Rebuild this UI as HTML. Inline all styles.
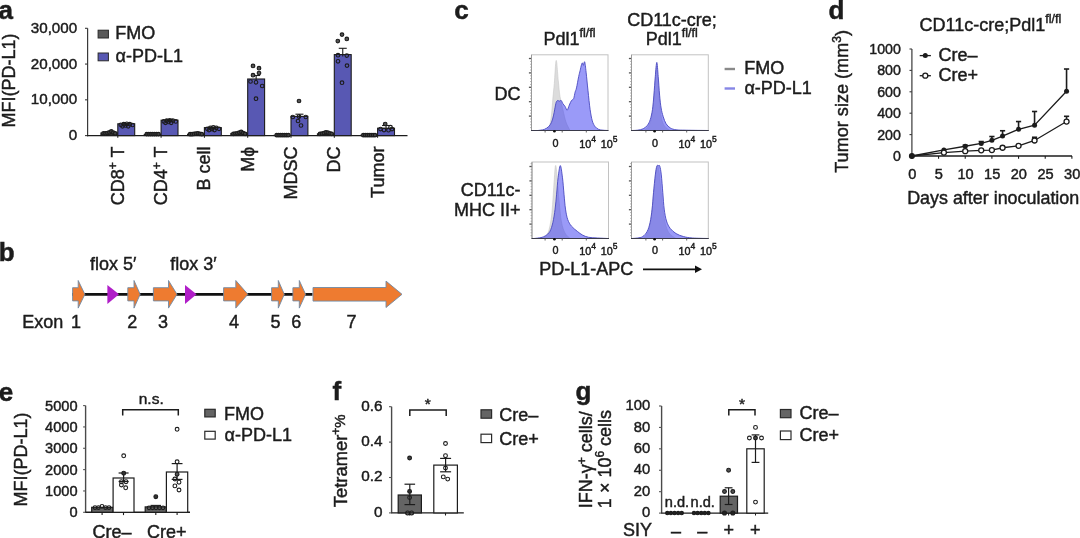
<!DOCTYPE html>
<html><head><meta charset="utf-8"><style>
html,body{margin:0;padding:0;background:#fff;overflow:hidden;}
svg{display:block;will-change:transform;}
text{font-family:"Liberation Sans",sans-serif;fill:#1c1c1c;stroke:#1c1c1c;stroke-width:0.45px;}
text.b{stroke-width:0.5px;}
</style></head><body>
<svg width="1080" height="538" viewBox="0 0 1080 538">
<text x="-1.5" y="18.6" font-size="26" text-anchor="start" font-weight="bold" class="b">a</text>
<line x1="87.6" y1="28.3" x2="87.6" y2="136.2" stroke="#3a3a3a" stroke-width="1.2"/>
<line x1="85.0" y1="135.6" x2="87.6" y2="135.6" stroke="#3a3a3a" stroke-width="1.1"/>
<text x="77.2" y="140.2" font-size="15.2" text-anchor="end" font-weight="normal">0</text>
<line x1="85.0" y1="99.83333333333333" x2="87.6" y2="99.83333333333333" stroke="#3a3a3a" stroke-width="1.1"/>
<text x="77.2" y="104.43333333333332" font-size="15.2" text-anchor="end" font-weight="normal">10,000</text>
<line x1="85.0" y1="64.06666666666666" x2="87.6" y2="64.06666666666666" stroke="#3a3a3a" stroke-width="1.1"/>
<text x="77.2" y="68.66666666666666" font-size="15.2" text-anchor="end" font-weight="normal">20,000</text>
<line x1="85.0" y1="28.299999999999997" x2="87.6" y2="28.299999999999997" stroke="#3a3a3a" stroke-width="1.1"/>
<text x="77.2" y="32.9" font-size="15.2" text-anchor="end" font-weight="normal">30,000</text>
<line x1="87.0" y1="135.6" x2="407.5" y2="135.6" stroke="#1c1c1c" stroke-width="1.4"/>
<text transform="translate(15.0,80.6) rotate(-90)" font-size="18" text-anchor="middle">MFI(PD-L1)</text>
<rect x="98.1" y="30.2" width="10.3" height="7.8" fill="#5a5a5a" stroke="#2a2a2a" stroke-width="1"/>
<text x="115.2" y="39.4" font-size="18" text-anchor="start" font-weight="normal">FMO</text>
<rect x="98.1" y="53.0" width="10.3" height="7.8" fill="#5858b3" stroke="#2a2a2a" stroke-width="1"/>
<text x="115.6" y="62.2" font-size="18" text-anchor="start" font-weight="normal">α-PD-L1</text>
<rect x="100.90" y="132.90" width="16.9" height="2.70" fill="#333" stroke="#1c1c1c" stroke-width="1"/>
<circle cx="103.50" cy="133.40" r="1.75" fill="#444" stroke="#1c1c1c" stroke-width="1.2"/>
<circle cx="105.45" cy="133.40" r="1.75" fill="#444" stroke="#1c1c1c" stroke-width="1.2"/>
<circle cx="107.40" cy="133.00" r="1.75" fill="#444" stroke="#1c1c1c" stroke-width="1.2"/>
<circle cx="109.35" cy="132.40" r="1.75" fill="#444" stroke="#1c1c1c" stroke-width="1.2"/>
<circle cx="111.30" cy="131.40" r="1.75" fill="#444" stroke="#1c1c1c" stroke-width="1.2"/>
<circle cx="113.25" cy="132.60" r="1.75" fill="#444" stroke="#1c1c1c" stroke-width="1.2"/>
<circle cx="115.20" cy="133.40" r="1.75" fill="#444" stroke="#1c1c1c" stroke-width="1.2"/>
<rect x="117.80" y="123.80" width="16.9" height="11.80" fill="#5858b3" stroke="#1c1c1c" stroke-width="1.1"/>
<line x1="126.25000000000001" y1="125.8" x2="126.25000000000001" y2="123.2" stroke="#1c1c1c" stroke-width="1.1"/>
<line x1="122.25000000000001" y1="123.2" x2="130.25" y2="123.2" stroke="#1c1c1c" stroke-width="1.1"/>
<circle cx="120.80" cy="124.80" r="1.8" fill="none" stroke="#1c1c1c" stroke-width="1.15"/>
<circle cx="123.80" cy="124.20" r="1.8" fill="none" stroke="#1c1c1c" stroke-width="1.15"/>
<circle cx="126.80" cy="123.80" r="1.8" fill="none" stroke="#1c1c1c" stroke-width="1.15"/>
<circle cx="129.80" cy="124.20" r="1.8" fill="none" stroke="#1c1c1c" stroke-width="1.15"/>
<circle cx="132.60" cy="125.00" r="1.8" fill="none" stroke="#1c1c1c" stroke-width="1.15"/>
<circle cx="122.50" cy="126.30" r="1.8" fill="none" stroke="#1c1c1c" stroke-width="1.15"/>
<circle cx="128.20" cy="126.30" r="1.8" fill="none" stroke="#1c1c1c" stroke-width="1.15"/>
<circle cx="125.50" cy="125.50" r="1.8" fill="none" stroke="#1c1c1c" stroke-width="1.15"/>
<line x1="117.80000000000001" y1="135.6" x2="117.80000000000001" y2="137.79999999999998" stroke="#1c1c1c" stroke-width="1"/>
<text transform="translate(123.80000000000001,146.6) rotate(-90)" font-size="18" text-anchor="end">CD8<tspan dy="-6.5" font-size="12">+</tspan><tspan dy="6.5"> T</tspan></text>
<rect x="144.20" y="134.40" width="16.9" height="1.20" fill="#333" stroke="#1c1c1c" stroke-width="1"/>
<circle cx="146.80" cy="134.10" r="1.75" fill="#444" stroke="#1c1c1c" stroke-width="1.2"/>
<circle cx="148.75" cy="134.10" r="1.75" fill="#444" stroke="#1c1c1c" stroke-width="1.2"/>
<circle cx="150.70" cy="134.10" r="1.75" fill="#444" stroke="#1c1c1c" stroke-width="1.2"/>
<circle cx="152.65" cy="134.10" r="1.75" fill="#444" stroke="#1c1c1c" stroke-width="1.2"/>
<circle cx="154.60" cy="134.10" r="1.75" fill="#444" stroke="#1c1c1c" stroke-width="1.2"/>
<circle cx="156.55" cy="134.10" r="1.75" fill="#444" stroke="#1c1c1c" stroke-width="1.2"/>
<circle cx="158.50" cy="134.10" r="1.75" fill="#444" stroke="#1c1c1c" stroke-width="1.2"/>
<rect x="161.10" y="120.20" width="16.9" height="15.40" fill="#5858b3" stroke="#1c1c1c" stroke-width="1.1"/>
<line x1="169.54999999999998" y1="122.2" x2="169.54999999999998" y2="119.6" stroke="#1c1c1c" stroke-width="1.1"/>
<line x1="165.54999999999998" y1="119.6" x2="173.54999999999998" y2="119.6" stroke="#1c1c1c" stroke-width="1.1"/>
<circle cx="163.80" cy="121.40" r="1.8" fill="none" stroke="#1c1c1c" stroke-width="1.15"/>
<circle cx="166.80" cy="120.60" r="1.8" fill="none" stroke="#1c1c1c" stroke-width="1.15"/>
<circle cx="169.80" cy="120.30" r="1.8" fill="none" stroke="#1c1c1c" stroke-width="1.15"/>
<circle cx="172.80" cy="120.60" r="1.8" fill="none" stroke="#1c1c1c" stroke-width="1.15"/>
<circle cx="175.80" cy="121.40" r="1.8" fill="none" stroke="#1c1c1c" stroke-width="1.15"/>
<circle cx="165.50" cy="122.80" r="1.8" fill="none" stroke="#1c1c1c" stroke-width="1.15"/>
<circle cx="171.20" cy="122.80" r="1.8" fill="none" stroke="#1c1c1c" stroke-width="1.15"/>
<circle cx="168.50" cy="122.00" r="1.8" fill="none" stroke="#1c1c1c" stroke-width="1.15"/>
<line x1="161.1" y1="135.6" x2="161.1" y2="137.79999999999998" stroke="#1c1c1c" stroke-width="1"/>
<text transform="translate(167.1,146.6) rotate(-90)" font-size="18" text-anchor="end">CD4<tspan dy="-6.5" font-size="12">+</tspan><tspan dy="6.5"> T</tspan></text>
<rect x="187.50" y="134.20" width="16.9" height="1.40" fill="#333" stroke="#1c1c1c" stroke-width="1"/>
<circle cx="190.10" cy="134.20" r="1.75" fill="#444" stroke="#1c1c1c" stroke-width="1.2"/>
<circle cx="192.05" cy="134.20" r="1.75" fill="#444" stroke="#1c1c1c" stroke-width="1.2"/>
<circle cx="194.00" cy="133.90" r="1.75" fill="#444" stroke="#1c1c1c" stroke-width="1.2"/>
<circle cx="195.95" cy="133.60" r="1.75" fill="#444" stroke="#1c1c1c" stroke-width="1.2"/>
<circle cx="197.90" cy="133.30" r="1.75" fill="#444" stroke="#1c1c1c" stroke-width="1.2"/>
<circle cx="199.85" cy="133.80" r="1.75" fill="#444" stroke="#1c1c1c" stroke-width="1.2"/>
<circle cx="201.80" cy="134.20" r="1.75" fill="#444" stroke="#1c1c1c" stroke-width="1.2"/>
<rect x="204.40" y="127.60" width="16.9" height="8.00" fill="#5858b3" stroke="#1c1c1c" stroke-width="1.1"/>
<line x1="212.85" y1="129.6" x2="212.85" y2="127.0" stroke="#1c1c1c" stroke-width="1.1"/>
<line x1="208.85" y1="127.0" x2="216.85" y2="127.0" stroke="#1c1c1c" stroke-width="1.1"/>
<circle cx="207.30" cy="128.80" r="1.8" fill="none" stroke="#1c1c1c" stroke-width="1.15"/>
<circle cx="210.30" cy="127.80" r="1.8" fill="none" stroke="#1c1c1c" stroke-width="1.15"/>
<circle cx="213.30" cy="127.30" r="1.8" fill="none" stroke="#1c1c1c" stroke-width="1.15"/>
<circle cx="216.30" cy="127.80" r="1.8" fill="none" stroke="#1c1c1c" stroke-width="1.15"/>
<circle cx="219.00" cy="128.80" r="1.8" fill="none" stroke="#1c1c1c" stroke-width="1.15"/>
<circle cx="209.00" cy="130.00" r="1.8" fill="none" stroke="#1c1c1c" stroke-width="1.15"/>
<circle cx="214.50" cy="130.00" r="1.8" fill="none" stroke="#1c1c1c" stroke-width="1.15"/>
<circle cx="212.00" cy="129.00" r="1.8" fill="none" stroke="#1c1c1c" stroke-width="1.15"/>
<line x1="204.4" y1="135.6" x2="204.4" y2="137.79999999999998" stroke="#1c1c1c" stroke-width="1"/>
<text transform="translate(210.4,146.6) rotate(-90)" font-size="18" text-anchor="end">B cell</text>
<rect x="230.80" y="133.40" width="16.9" height="2.20" fill="#333" stroke="#1c1c1c" stroke-width="1"/>
<circle cx="233.40" cy="133.80" r="1.75" fill="#444" stroke="#1c1c1c" stroke-width="1.2"/>
<circle cx="235.35" cy="133.60" r="1.75" fill="#444" stroke="#1c1c1c" stroke-width="1.2"/>
<circle cx="237.30" cy="133.30" r="1.75" fill="#444" stroke="#1c1c1c" stroke-width="1.2"/>
<circle cx="239.25" cy="132.60" r="1.75" fill="#444" stroke="#1c1c1c" stroke-width="1.2"/>
<circle cx="241.20" cy="131.80" r="1.75" fill="#444" stroke="#1c1c1c" stroke-width="1.2"/>
<circle cx="243.15" cy="133.10" r="1.75" fill="#444" stroke="#1c1c1c" stroke-width="1.2"/>
<circle cx="245.10" cy="133.80" r="1.75" fill="#444" stroke="#1c1c1c" stroke-width="1.2"/>
<rect x="247.70" y="79.00" width="16.9" height="56.60" fill="#5858b3" stroke="#1c1c1c" stroke-width="1.1"/>
<line x1="256.15" y1="81.0" x2="256.15" y2="75.5" stroke="#1c1c1c" stroke-width="1.1"/>
<line x1="252.14999999999998" y1="75.5" x2="260.15" y2="75.5" stroke="#1c1c1c" stroke-width="1.1"/>
<circle cx="253.00" cy="66.00" r="1.8" fill="#555" stroke="#1c1c1c" stroke-width="1.15"/>
<circle cx="259.00" cy="68.20" r="1.8" fill="#555" stroke="#1c1c1c" stroke-width="1.15"/>
<circle cx="259.00" cy="73.00" r="1.8" fill="#555" stroke="#1c1c1c" stroke-width="1.15"/>
<circle cx="253.00" cy="75.20" r="1.8" fill="#555" stroke="#1c1c1c" stroke-width="1.15"/>
<circle cx="250.50" cy="81.50" r="1.8" fill="none" stroke="#1c1c1c" stroke-width="1.15"/>
<circle cx="256.00" cy="82.30" r="1.8" fill="none" stroke="#1c1c1c" stroke-width="1.15"/>
<circle cx="262.20" cy="86.00" r="1.8" fill="none" stroke="#1c1c1c" stroke-width="1.15"/>
<circle cx="256.00" cy="98.70" r="1.8" fill="none" stroke="#1c1c1c" stroke-width="1.15"/>
<line x1="247.7" y1="135.6" x2="247.7" y2="137.79999999999998" stroke="#1c1c1c" stroke-width="1"/>
<text transform="translate(253.7,146.6) rotate(-90)" font-size="18" text-anchor="end">Mϕ</text>
<rect x="274.10" y="135.20" width="16.9" height="0.40" fill="#333" stroke="#1c1c1c" stroke-width="1"/>
<circle cx="276.70" cy="135.20" r="1.75" fill="#444" stroke="#1c1c1c" stroke-width="1.2"/>
<circle cx="278.65" cy="135.20" r="1.75" fill="#444" stroke="#1c1c1c" stroke-width="1.2"/>
<circle cx="280.60" cy="135.20" r="1.75" fill="#444" stroke="#1c1c1c" stroke-width="1.2"/>
<circle cx="282.55" cy="135.20" r="1.75" fill="#444" stroke="#1c1c1c" stroke-width="1.2"/>
<circle cx="284.50" cy="135.20" r="1.75" fill="#444" stroke="#1c1c1c" stroke-width="1.2"/>
<circle cx="286.45" cy="135.20" r="1.75" fill="#444" stroke="#1c1c1c" stroke-width="1.2"/>
<circle cx="288.40" cy="135.20" r="1.75" fill="#444" stroke="#1c1c1c" stroke-width="1.2"/>
<rect x="291.00" y="116.40" width="16.9" height="19.20" fill="#5858b3" stroke="#1c1c1c" stroke-width="1.1"/>
<line x1="299.45" y1="118.4" x2="299.45" y2="114.2" stroke="#1c1c1c" stroke-width="1.1"/>
<line x1="295.45" y1="114.2" x2="303.45" y2="114.2" stroke="#1c1c1c" stroke-width="1.1"/>
<circle cx="299.00" cy="101.00" r="1.8" fill="#555" stroke="#1c1c1c" stroke-width="1.15"/>
<circle cx="292.80" cy="117.00" r="1.8" fill="none" stroke="#1c1c1c" stroke-width="1.15"/>
<circle cx="299.00" cy="116.60" r="1.8" fill="none" stroke="#1c1c1c" stroke-width="1.15"/>
<circle cx="305.80" cy="117.00" r="1.8" fill="none" stroke="#1c1c1c" stroke-width="1.15"/>
<circle cx="298.00" cy="121.00" r="1.8" fill="none" stroke="#1c1c1c" stroke-width="1.15"/>
<circle cx="301.00" cy="125.50" r="1.8" fill="none" stroke="#1c1c1c" stroke-width="1.15"/>
<line x1="291.0" y1="135.6" x2="291.0" y2="137.79999999999998" stroke="#1c1c1c" stroke-width="1"/>
<text transform="translate(297.0,146.6) rotate(-90)" font-size="18" text-anchor="end">MDSC</text>
<rect x="317.40" y="133.80" width="16.9" height="1.80" fill="#333" stroke="#1c1c1c" stroke-width="1"/>
<circle cx="320.00" cy="133.80" r="1.75" fill="#444" stroke="#1c1c1c" stroke-width="1.2"/>
<circle cx="321.95" cy="133.60" r="1.75" fill="#444" stroke="#1c1c1c" stroke-width="1.2"/>
<circle cx="323.90" cy="133.10" r="1.75" fill="#444" stroke="#1c1c1c" stroke-width="1.2"/>
<circle cx="325.85" cy="132.30" r="1.75" fill="#444" stroke="#1c1c1c" stroke-width="1.2"/>
<circle cx="327.80" cy="132.70" r="1.75" fill="#444" stroke="#1c1c1c" stroke-width="1.2"/>
<circle cx="329.75" cy="133.40" r="1.75" fill="#444" stroke="#1c1c1c" stroke-width="1.2"/>
<circle cx="331.70" cy="133.80" r="1.75" fill="#444" stroke="#1c1c1c" stroke-width="1.2"/>
<rect x="334.30" y="54.60" width="16.9" height="81.00" fill="#5858b3" stroke="#1c1c1c" stroke-width="1.1"/>
<line x1="342.74999999999994" y1="56.6" x2="342.74999999999994" y2="48.3" stroke="#1c1c1c" stroke-width="1.1"/>
<line x1="338.74999999999994" y1="48.3" x2="346.74999999999994" y2="48.3" stroke="#1c1c1c" stroke-width="1.1"/>
<circle cx="342.00" cy="34.60" r="1.8" fill="#555" stroke="#1c1c1c" stroke-width="1.15"/>
<circle cx="337.80" cy="41.00" r="1.8" fill="#555" stroke="#1c1c1c" stroke-width="1.15"/>
<circle cx="346.80" cy="38.90" r="1.8" fill="#555" stroke="#1c1c1c" stroke-width="1.15"/>
<circle cx="338.00" cy="55.20" r="1.8" fill="none" stroke="#1c1c1c" stroke-width="1.15"/>
<circle cx="346.80" cy="55.50" r="1.8" fill="none" stroke="#1c1c1c" stroke-width="1.15"/>
<circle cx="338.00" cy="61.30" r="1.8" fill="none" stroke="#1c1c1c" stroke-width="1.15"/>
<circle cx="347.00" cy="65.60" r="1.8" fill="none" stroke="#1c1c1c" stroke-width="1.15"/>
<circle cx="342.00" cy="82.70" r="1.8" fill="none" stroke="#1c1c1c" stroke-width="1.15"/>
<line x1="334.29999999999995" y1="135.6" x2="334.29999999999995" y2="137.79999999999998" stroke="#1c1c1c" stroke-width="1"/>
<text transform="translate(340.29999999999995,146.6) rotate(-90)" font-size="18" text-anchor="end">DC</text>
<rect x="360.70" y="135.20" width="16.9" height="0.40" fill="#333" stroke="#1c1c1c" stroke-width="1"/>
<circle cx="363.30" cy="135.20" r="1.75" fill="#444" stroke="#1c1c1c" stroke-width="1.2"/>
<circle cx="365.25" cy="135.20" r="1.75" fill="#444" stroke="#1c1c1c" stroke-width="1.2"/>
<circle cx="367.20" cy="135.20" r="1.75" fill="#444" stroke="#1c1c1c" stroke-width="1.2"/>
<circle cx="369.15" cy="135.20" r="1.75" fill="#444" stroke="#1c1c1c" stroke-width="1.2"/>
<circle cx="371.10" cy="135.20" r="1.75" fill="#444" stroke="#1c1c1c" stroke-width="1.2"/>
<circle cx="373.05" cy="135.20" r="1.75" fill="#444" stroke="#1c1c1c" stroke-width="1.2"/>
<circle cx="375.00" cy="135.20" r="1.75" fill="#444" stroke="#1c1c1c" stroke-width="1.2"/>
<rect x="377.60" y="128.20" width="16.9" height="7.40" fill="#5858b3" stroke="#1c1c1c" stroke-width="1.1"/>
<line x1="386.0499999999999" y1="130.2" x2="386.0499999999999" y2="125.5" stroke="#1c1c1c" stroke-width="1.1"/>
<line x1="382.0499999999999" y1="125.5" x2="390.0499999999999" y2="125.5" stroke="#1c1c1c" stroke-width="1.1"/>
<circle cx="385.20" cy="124.00" r="1.8" fill="#555" stroke="#1c1c1c" stroke-width="1.15"/>
<circle cx="390.50" cy="127.20" r="1.8" fill="none" stroke="#1c1c1c" stroke-width="1.15"/>
<circle cx="380.50" cy="129.00" r="1.8" fill="none" stroke="#1c1c1c" stroke-width="1.15"/>
<circle cx="384.00" cy="130.00" r="1.8" fill="none" stroke="#1c1c1c" stroke-width="1.15"/>
<circle cx="388.50" cy="130.20" r="1.8" fill="none" stroke="#1c1c1c" stroke-width="1.15"/>
<circle cx="392.00" cy="129.00" r="1.8" fill="none" stroke="#1c1c1c" stroke-width="1.15"/>
<line x1="377.5999999999999" y1="135.6" x2="377.5999999999999" y2="137.79999999999998" stroke="#1c1c1c" stroke-width="1"/>
<text transform="translate(383.5999999999999,146.6) rotate(-90)" font-size="18" text-anchor="end">Tumor</text>
<text x="-1.2" y="260.9" font-size="26" text-anchor="start" font-weight="bold" class="b">b</text>
<text x="90" y="269.6" font-size="18" text-anchor="start" font-weight="normal">flox 5′</text>
<text x="170.3" y="269.6" font-size="18" text-anchor="start" font-weight="normal">flox 3′</text>
<line x1="72" y1="294.3" x2="312.5" y2="294.3" stroke="#111" stroke-width="2.7"/>
<polygon points="72.60,287.70 78.20,287.70 78.20,280.50 84.90,294.30 78.20,308.10 78.20,300.90 72.60,300.90" fill="#ee7b30" stroke="#6f8aa6" stroke-width="0.9" stroke-linejoin="miter"/>
<polygon points="127.80,287.70 134.00,287.70 134.00,280.50 140.20,294.30 134.00,308.10 134.00,300.90 127.80,300.90" fill="#ee7b30" stroke="#6f8aa6" stroke-width="0.9" stroke-linejoin="miter"/>
<polygon points="153.40,287.70 168.50,287.70 168.50,280.50 177.00,294.30 168.50,308.10 168.50,300.90 153.40,300.90" fill="#ee7b30" stroke="#6f8aa6" stroke-width="0.9" stroke-linejoin="miter"/>
<polygon points="223.60,287.70 235.80,287.70 235.80,280.50 247.90,294.30 235.80,308.10 235.80,300.90 223.60,300.90" fill="#ee7b30" stroke="#6f8aa6" stroke-width="0.9" stroke-linejoin="miter"/>
<polygon points="271.60,287.70 278.30,287.70 278.30,280.50 284.30,294.30 278.30,308.10 278.30,300.90 271.60,300.90" fill="#ee7b30" stroke="#6f8aa6" stroke-width="0.9" stroke-linejoin="miter"/>
<polygon points="292.90,287.70 299.30,287.70 299.30,280.50 305.60,294.30 299.30,308.10 299.30,300.90 292.90,300.90" fill="#ee7b30" stroke="#6f8aa6" stroke-width="0.9" stroke-linejoin="miter"/>
<polygon points="313.00,287.50 386.00,287.50 386.00,281.10 402.00,294.30 386.00,307.50 386.00,301.10 313.00,301.10" fill="#ee7b30" stroke="#6f8aa6" stroke-width="0.9" stroke-linejoin="miter"/>
<polygon points="107.4,284.9 119.0,294.3 107.4,303.9" fill="#b01ec8"/>
<polygon points="185.0,284.9 196.6,294.3 185.0,303.9" fill="#b01ec8"/>
<text x="22.2" y="328.3" font-size="18" text-anchor="start" font-weight="normal">Exon</text>
<text x="71.0" y="328.3" font-size="18" text-anchor="start" font-weight="normal">1</text>
<text x="127.3" y="328.3" font-size="18" text-anchor="start" font-weight="normal">2</text>
<text x="158.0" y="328.3" font-size="18" text-anchor="start" font-weight="normal">3</text>
<text x="229.0" y="328.3" font-size="18" text-anchor="start" font-weight="normal">4</text>
<text x="270.6" y="328.3" font-size="18" text-anchor="start" font-weight="normal">5</text>
<text x="291.3" y="328.3" font-size="18" text-anchor="start" font-weight="normal">6</text>
<text x="346.6" y="328.3" font-size="18" text-anchor="start" font-weight="normal">7</text>
<text x="454.3" y="18.9" font-size="26" text-anchor="start" font-weight="bold" class="b">c</text>
<rect x="531.5" y="54.8" width="76.5" height="75.7" fill="#fff" stroke="#c2c2c2" stroke-width="1"/>
<path d="M546.00,130.50 C546.58,129.75 548.58,128.58 549.50,126.00 C550.42,123.42 550.93,119.67 551.50,115.00 C552.07,110.33 552.43,103.23 552.90,98.00 C553.37,92.77 553.75,89.87 554.30,83.60 C554.85,77.33 555.53,60.87 556.20,60.40 C556.87,59.93 557.67,74.78 558.30,80.80 C558.93,86.82 559.22,91.63 560.00,96.50 C560.78,101.37 562.00,105.75 563.00,110.00 C564.00,114.25 564.83,118.58 566.00,122.00 C567.17,125.42 569.33,129.08 570.00,130.50 Z" fill="#dcdcdc" fill-opacity="1" stroke="#c8c8c8" stroke-width="0.6"/>
<path d="M538.00,130.50 C539.05,130.32 542.53,130.05 544.30,129.40 C546.07,128.75 547.40,127.78 548.60,126.60 C549.80,125.42 550.67,124.22 551.50,122.30 C552.33,120.38 552.93,117.97 553.60,115.10 C554.27,112.23 555.02,107.37 555.50,105.10 C555.98,102.83 556.10,102.27 556.50,101.50 C556.90,100.73 557.43,100.57 557.90,100.50 C558.37,100.43 558.75,101.10 559.30,101.10 C559.85,101.10 560.60,100.07 561.20,100.50 C561.80,100.93 562.25,102.70 562.90,103.70 C563.55,104.70 564.38,105.43 565.10,106.50 C565.82,107.57 566.50,110.33 567.20,110.10 C567.90,109.87 568.58,106.70 569.30,105.10 C570.02,103.50 570.78,101.57 571.50,100.50 C572.22,99.43 573.00,100.08 573.60,98.70 C574.20,97.32 574.62,94.00 575.10,92.20 C575.58,90.40 575.90,90.52 576.50,87.90 C577.10,85.28 578.10,79.37 578.70,76.50 C579.30,73.63 579.63,72.67 580.10,70.70 C580.57,68.73 581.10,66.00 581.50,64.70 C581.90,63.40 582.18,62.80 582.50,62.90 C582.82,63.00 583.03,65.47 583.40,65.30 C583.77,65.13 584.25,60.75 584.70,61.90 C585.15,63.05 585.55,67.38 586.10,72.20 C586.65,77.02 587.33,84.60 588.00,90.80 C588.67,97.00 589.38,104.38 590.10,109.40 C590.82,114.42 591.47,118.03 592.30,120.90 C593.13,123.77 594.03,125.18 595.10,126.60 C596.17,128.02 597.38,128.80 598.70,129.40 C600.02,130.00 601.45,130.02 603.00,130.20 C604.55,130.38 607.17,130.45 608.00,130.50 Z" fill="#3b3bf1" fill-opacity="0.515" stroke="#4848c0" stroke-width="0.9"/>
<line x1="530.1" y1="127.62" x2="531.5" y2="127.62" stroke="#999" stroke-width="0.8"/>
<line x1="530.1" y1="124.74" x2="531.5" y2="124.74" stroke="#999" stroke-width="0.8"/>
<line x1="530.1" y1="121.86" x2="531.5" y2="121.86" stroke="#999" stroke-width="0.8"/>
<line x1="530.1" y1="118.98" x2="531.5" y2="118.98" stroke="#999" stroke-width="0.8"/>
<line x1="528.9" y1="116.1" x2="531.5" y2="116.1" stroke="#555" stroke-width="1.3"/>
<line x1="530.1" y1="113.22" x2="531.5" y2="113.22" stroke="#999" stroke-width="0.8"/>
<line x1="530.1" y1="110.34" x2="531.5" y2="110.34" stroke="#999" stroke-width="0.8"/>
<line x1="530.1" y1="107.46000000000001" x2="531.5" y2="107.46000000000001" stroke="#999" stroke-width="0.8"/>
<line x1="530.1" y1="104.58" x2="531.5" y2="104.58" stroke="#999" stroke-width="0.8"/>
<line x1="528.9" y1="101.7" x2="531.5" y2="101.7" stroke="#555" stroke-width="1.3"/>
<line x1="530.1" y1="98.82" x2="531.5" y2="98.82" stroke="#999" stroke-width="0.8"/>
<line x1="530.1" y1="95.94" x2="531.5" y2="95.94" stroke="#999" stroke-width="0.8"/>
<line x1="530.1" y1="93.06" x2="531.5" y2="93.06" stroke="#999" stroke-width="0.8"/>
<line x1="530.1" y1="90.18" x2="531.5" y2="90.18" stroke="#999" stroke-width="0.8"/>
<line x1="528.9" y1="87.3" x2="531.5" y2="87.3" stroke="#555" stroke-width="1.3"/>
<line x1="530.1" y1="84.42" x2="531.5" y2="84.42" stroke="#999" stroke-width="0.8"/>
<line x1="530.1" y1="81.53999999999999" x2="531.5" y2="81.53999999999999" stroke="#999" stroke-width="0.8"/>
<line x1="530.1" y1="78.66" x2="531.5" y2="78.66" stroke="#999" stroke-width="0.8"/>
<line x1="530.1" y1="75.78" x2="531.5" y2="75.78" stroke="#999" stroke-width="0.8"/>
<line x1="528.9" y1="72.9" x2="531.5" y2="72.9" stroke="#555" stroke-width="1.3"/>
<line x1="530.1" y1="70.02" x2="531.5" y2="70.02" stroke="#999" stroke-width="0.8"/>
<line x1="530.1" y1="67.14" x2="531.5" y2="67.14" stroke="#999" stroke-width="0.8"/>
<line x1="530.1" y1="64.26" x2="531.5" y2="64.26" stroke="#999" stroke-width="0.8"/>
<line x1="530.1" y1="61.379999999999995" x2="531.5" y2="61.379999999999995" stroke="#999" stroke-width="0.8"/>
<line x1="528.9" y1="58.5" x2="531.5" y2="58.5" stroke="#555" stroke-width="1.3"/>
<line x1="531.5" y1="54.8" x2="531.5" y2="130.5" stroke="#9a9a9a" stroke-width="1.0"/>
<line x1="531.0" y1="130.5" x2="608.5" y2="130.5" stroke="#3a3a4a" stroke-width="1.2"/>
<line x1="545.1" y1="130.5" x2="545.1" y2="132.5" stroke="#555" stroke-width="0.9"/>
<line x1="562.2" y1="130.5" x2="562.2" y2="132.5" stroke="#555" stroke-width="0.9"/>
<line x1="586.3" y1="130.5" x2="586.3" y2="132.5" stroke="#555" stroke-width="0.9"/>
<circle cx="554.4" cy="131.3" r="1.3" fill="#111"/>
<rect x="631.5" y="54.8" width="76.79999999999995" height="75.7" fill="#fff" stroke="#c2c2c2" stroke-width="1"/>
<path d="M644.00,130.50 C644.75,129.75 647.25,128.08 648.50,126.00 C649.75,123.92 650.62,122.33 651.50,118.00 C652.38,113.67 653.17,106.33 653.80,100.00 C654.43,93.67 654.85,85.67 655.30,80.00 C655.75,74.33 656.08,66.00 656.50,66.00 C656.92,66.00 657.33,74.33 657.80,80.00 C658.27,85.67 658.68,93.67 659.30,100.00 C659.92,106.33 660.63,113.67 661.50,118.00 C662.37,122.33 663.08,123.92 664.50,126.00 C665.92,128.08 669.08,129.75 670.00,130.50 Z" fill="#dcdcdc" fill-opacity="1" stroke="#c8c8c8" stroke-width="0.6"/>
<path d="M632.00,130.50 C632.90,130.45 635.53,130.48 637.40,130.20 C639.27,129.92 641.52,129.63 643.20,128.80 C644.88,127.97 646.32,126.75 647.50,125.20 C648.68,123.65 649.47,122.13 650.30,119.50 C651.13,116.87 651.90,113.47 652.50,109.40 C653.10,105.33 653.43,100.58 653.90,95.10 C654.37,89.62 654.82,81.95 655.30,76.50 C655.78,71.05 656.32,62.40 656.80,62.40 C657.28,62.40 657.73,71.05 658.20,76.50 C658.67,81.95 659.12,89.85 659.60,95.10 C660.08,100.35 660.50,104.42 661.10,108.00 C661.70,111.58 662.37,113.97 663.20,116.60 C664.03,119.23 664.90,121.90 666.10,123.80 C667.30,125.70 668.73,127.00 670.40,128.00 C672.07,129.00 673.48,129.43 676.10,129.80 C678.72,130.17 680.78,130.08 686.10,130.20 C691.42,130.32 704.35,130.45 708.00,130.50 Z" fill="#3b3bf1" fill-opacity="0.515" stroke="#4848c0" stroke-width="0.9"/>
<line x1="630.1" y1="127.62" x2="631.5" y2="127.62" stroke="#999" stroke-width="0.8"/>
<line x1="630.1" y1="124.74" x2="631.5" y2="124.74" stroke="#999" stroke-width="0.8"/>
<line x1="630.1" y1="121.86" x2="631.5" y2="121.86" stroke="#999" stroke-width="0.8"/>
<line x1="630.1" y1="118.98" x2="631.5" y2="118.98" stroke="#999" stroke-width="0.8"/>
<line x1="628.9" y1="116.1" x2="631.5" y2="116.1" stroke="#555" stroke-width="1.3"/>
<line x1="630.1" y1="113.22" x2="631.5" y2="113.22" stroke="#999" stroke-width="0.8"/>
<line x1="630.1" y1="110.34" x2="631.5" y2="110.34" stroke="#999" stroke-width="0.8"/>
<line x1="630.1" y1="107.46000000000001" x2="631.5" y2="107.46000000000001" stroke="#999" stroke-width="0.8"/>
<line x1="630.1" y1="104.58" x2="631.5" y2="104.58" stroke="#999" stroke-width="0.8"/>
<line x1="628.9" y1="101.7" x2="631.5" y2="101.7" stroke="#555" stroke-width="1.3"/>
<line x1="630.1" y1="98.82" x2="631.5" y2="98.82" stroke="#999" stroke-width="0.8"/>
<line x1="630.1" y1="95.94" x2="631.5" y2="95.94" stroke="#999" stroke-width="0.8"/>
<line x1="630.1" y1="93.06" x2="631.5" y2="93.06" stroke="#999" stroke-width="0.8"/>
<line x1="630.1" y1="90.18" x2="631.5" y2="90.18" stroke="#999" stroke-width="0.8"/>
<line x1="628.9" y1="87.3" x2="631.5" y2="87.3" stroke="#555" stroke-width="1.3"/>
<line x1="630.1" y1="84.42" x2="631.5" y2="84.42" stroke="#999" stroke-width="0.8"/>
<line x1="630.1" y1="81.53999999999999" x2="631.5" y2="81.53999999999999" stroke="#999" stroke-width="0.8"/>
<line x1="630.1" y1="78.66" x2="631.5" y2="78.66" stroke="#999" stroke-width="0.8"/>
<line x1="630.1" y1="75.78" x2="631.5" y2="75.78" stroke="#999" stroke-width="0.8"/>
<line x1="628.9" y1="72.9" x2="631.5" y2="72.9" stroke="#555" stroke-width="1.3"/>
<line x1="630.1" y1="70.02" x2="631.5" y2="70.02" stroke="#999" stroke-width="0.8"/>
<line x1="630.1" y1="67.14" x2="631.5" y2="67.14" stroke="#999" stroke-width="0.8"/>
<line x1="630.1" y1="64.26" x2="631.5" y2="64.26" stroke="#999" stroke-width="0.8"/>
<line x1="630.1" y1="61.379999999999995" x2="631.5" y2="61.379999999999995" stroke="#999" stroke-width="0.8"/>
<line x1="628.9" y1="58.5" x2="631.5" y2="58.5" stroke="#555" stroke-width="1.3"/>
<line x1="631.5" y1="54.8" x2="631.5" y2="130.5" stroke="#9a9a9a" stroke-width="1.0"/>
<line x1="631.0" y1="130.5" x2="708.8" y2="130.5" stroke="#3a3a4a" stroke-width="1.2"/>
<line x1="645.9" y1="130.5" x2="645.9" y2="132.5" stroke="#555" stroke-width="0.9"/>
<line x1="662.6" y1="130.5" x2="662.6" y2="132.5" stroke="#555" stroke-width="0.9"/>
<line x1="686.7" y1="130.5" x2="686.7" y2="132.5" stroke="#555" stroke-width="0.9"/>
<circle cx="654.6" cy="131.3" r="1.3" fill="#111"/>
<rect x="532.0" y="162.0" width="76.5" height="76.5" fill="#fff" stroke="#c2c2c2" stroke-width="1"/>
<path d="M543.00,238.50 C543.83,237.58 546.65,236.17 548.00,233.00 C549.35,229.83 550.33,224.23 551.10,219.50 C551.87,214.77 552.10,210.80 552.60,204.60 C553.10,198.40 553.62,188.80 554.10,182.30 C554.58,175.80 555.02,166.82 555.50,165.60 C555.98,164.38 556.42,169.27 557.00,175.00 C557.58,180.73 558.25,192.17 559.00,200.00 C559.75,207.83 560.50,216.50 561.50,222.00 C562.50,227.50 563.58,230.25 565.00,233.00 C566.42,235.75 569.17,237.58 570.00,238.50 Z" fill="#dcdcdc" fill-opacity="1" stroke="#c8c8c8" stroke-width="0.6"/>
<path d="M534.00,238.50 C535.17,238.35 539.10,238.05 541.00,237.60 C542.90,237.15 543.92,236.83 545.40,235.80 C546.88,234.77 548.65,233.63 549.90,231.40 C551.15,229.17 552.03,226.12 552.90,222.40 C553.77,218.68 554.48,213.80 555.10,209.10 C555.72,204.40 556.10,199.42 556.60,194.20 C557.10,188.98 557.48,182.57 558.10,177.80 C558.72,173.03 559.57,165.60 560.30,165.60 C561.03,165.60 561.88,173.03 562.50,177.80 C563.12,182.57 563.50,188.98 564.00,194.20 C564.50,199.42 564.88,204.88 565.50,209.10 C566.12,213.32 566.70,216.65 567.70,219.50 C568.70,222.35 569.88,224.22 571.50,226.20 C573.12,228.18 575.55,229.92 577.40,231.40 C579.25,232.88 580.73,234.12 582.60,235.10 C584.47,236.08 586.12,236.82 588.60,237.30 C591.08,237.78 594.27,237.80 597.50,238.00 C600.73,238.20 606.25,238.42 608.00,238.50 Z" fill="#3b3bf1" fill-opacity="0.515" stroke="#4848c0" stroke-width="0.9"/>
<line x1="530.6" y1="235.62" x2="532.0" y2="235.62" stroke="#999" stroke-width="0.8"/>
<line x1="530.6" y1="232.74" x2="532.0" y2="232.74" stroke="#999" stroke-width="0.8"/>
<line x1="530.6" y1="229.86" x2="532.0" y2="229.86" stroke="#999" stroke-width="0.8"/>
<line x1="530.6" y1="226.98" x2="532.0" y2="226.98" stroke="#999" stroke-width="0.8"/>
<line x1="529.4" y1="224.1" x2="532.0" y2="224.1" stroke="#555" stroke-width="1.3"/>
<line x1="530.6" y1="221.22" x2="532.0" y2="221.22" stroke="#999" stroke-width="0.8"/>
<line x1="530.6" y1="218.34" x2="532.0" y2="218.34" stroke="#999" stroke-width="0.8"/>
<line x1="530.6" y1="215.46" x2="532.0" y2="215.46" stroke="#999" stroke-width="0.8"/>
<line x1="530.6" y1="212.58" x2="532.0" y2="212.58" stroke="#999" stroke-width="0.8"/>
<line x1="529.4" y1="209.7" x2="532.0" y2="209.7" stroke="#555" stroke-width="1.3"/>
<line x1="530.6" y1="206.82" x2="532.0" y2="206.82" stroke="#999" stroke-width="0.8"/>
<line x1="530.6" y1="203.94" x2="532.0" y2="203.94" stroke="#999" stroke-width="0.8"/>
<line x1="530.6" y1="201.06" x2="532.0" y2="201.06" stroke="#999" stroke-width="0.8"/>
<line x1="530.6" y1="198.18" x2="532.0" y2="198.18" stroke="#999" stroke-width="0.8"/>
<line x1="529.4" y1="195.3" x2="532.0" y2="195.3" stroke="#555" stroke-width="1.3"/>
<line x1="530.6" y1="192.42000000000002" x2="532.0" y2="192.42000000000002" stroke="#999" stroke-width="0.8"/>
<line x1="530.6" y1="189.54" x2="532.0" y2="189.54" stroke="#999" stroke-width="0.8"/>
<line x1="530.6" y1="186.66" x2="532.0" y2="186.66" stroke="#999" stroke-width="0.8"/>
<line x1="530.6" y1="183.78" x2="532.0" y2="183.78" stroke="#999" stroke-width="0.8"/>
<line x1="529.4" y1="180.9" x2="532.0" y2="180.9" stroke="#555" stroke-width="1.3"/>
<line x1="530.6" y1="178.01999999999998" x2="532.0" y2="178.01999999999998" stroke="#999" stroke-width="0.8"/>
<line x1="530.6" y1="175.14" x2="532.0" y2="175.14" stroke="#999" stroke-width="0.8"/>
<line x1="530.6" y1="172.26" x2="532.0" y2="172.26" stroke="#999" stroke-width="0.8"/>
<line x1="530.6" y1="169.38" x2="532.0" y2="169.38" stroke="#999" stroke-width="0.8"/>
<line x1="529.4" y1="166.5" x2="532.0" y2="166.5" stroke="#555" stroke-width="1.3"/>
<line x1="530.6" y1="163.62" x2="532.0" y2="163.62" stroke="#999" stroke-width="0.8"/>
<line x1="532.0" y1="162.0" x2="532.0" y2="238.5" stroke="#9a9a9a" stroke-width="1.0"/>
<line x1="531.5" y1="238.5" x2="609.0" y2="238.5" stroke="#3a3a4a" stroke-width="1.2"/>
<line x1="545.1" y1="238.5" x2="545.1" y2="240.5" stroke="#555" stroke-width="0.9"/>
<line x1="562.2" y1="238.5" x2="562.2" y2="240.5" stroke="#555" stroke-width="0.9"/>
<line x1="586.3" y1="238.5" x2="586.3" y2="240.5" stroke="#555" stroke-width="0.9"/>
<circle cx="554.4" cy="239.3" r="1.3" fill="#111"/>
<rect x="631.5" y="162.0" width="76.79999999999995" height="76.5" fill="#fff" stroke="#c2c2c2" stroke-width="1"/>
<path d="M643.00,238.50 C643.75,237.58 646.25,235.75 647.50,233.00 C648.75,230.25 649.67,226.67 650.50,222.00 C651.33,217.33 651.83,211.17 652.50,205.00 C653.17,198.83 653.83,191.17 654.50,185.00 C655.17,178.83 655.83,170.83 656.50,168.00 C657.17,165.17 657.83,165.17 658.50,168.00 C659.17,170.83 659.83,178.83 660.50,185.00 C661.17,191.17 661.75,198.83 662.50,205.00 C663.25,211.17 663.92,217.33 665.00,222.00 C666.08,226.67 667.17,230.25 669.00,233.00 C670.83,235.75 674.83,237.58 676.00,238.50 Z" fill="#dcdcdc" fill-opacity="1" stroke="#c8c8c8" stroke-width="0.6"/>
<path d="M632.00,238.50 C632.92,238.42 635.72,238.32 637.50,238.00 C639.28,237.68 641.08,237.70 642.70,236.60 C644.32,235.50 645.97,233.77 647.20,231.40 C648.43,229.03 649.28,226.12 650.10,222.40 C650.92,218.68 651.53,214.05 652.10,209.10 C652.67,204.15 652.97,198.40 653.50,192.70 C654.03,187.00 654.75,179.32 655.30,174.90 C655.85,170.48 656.30,167.75 656.80,166.20 C657.30,164.65 657.80,165.60 658.30,165.60 C658.80,165.60 659.30,164.65 659.80,166.20 C660.30,167.75 660.80,170.48 661.30,174.90 C661.80,179.32 662.32,187.00 662.80,192.70 C663.28,198.40 663.58,204.38 664.20,209.10 C664.82,213.82 665.50,217.78 666.50,221.00 C667.50,224.22 668.60,226.30 670.20,228.40 C671.80,230.50 673.87,232.23 676.10,233.60 C678.33,234.97 680.87,235.87 683.60,236.60 C686.33,237.33 688.43,237.68 692.50,238.00 C696.57,238.32 705.42,238.42 708.00,238.50 Z" fill="#3b3bf1" fill-opacity="0.515" stroke="#4848c0" stroke-width="0.9"/>
<line x1="630.1" y1="235.62" x2="631.5" y2="235.62" stroke="#999" stroke-width="0.8"/>
<line x1="630.1" y1="232.74" x2="631.5" y2="232.74" stroke="#999" stroke-width="0.8"/>
<line x1="630.1" y1="229.86" x2="631.5" y2="229.86" stroke="#999" stroke-width="0.8"/>
<line x1="630.1" y1="226.98" x2="631.5" y2="226.98" stroke="#999" stroke-width="0.8"/>
<line x1="628.9" y1="224.1" x2="631.5" y2="224.1" stroke="#555" stroke-width="1.3"/>
<line x1="630.1" y1="221.22" x2="631.5" y2="221.22" stroke="#999" stroke-width="0.8"/>
<line x1="630.1" y1="218.34" x2="631.5" y2="218.34" stroke="#999" stroke-width="0.8"/>
<line x1="630.1" y1="215.46" x2="631.5" y2="215.46" stroke="#999" stroke-width="0.8"/>
<line x1="630.1" y1="212.58" x2="631.5" y2="212.58" stroke="#999" stroke-width="0.8"/>
<line x1="628.9" y1="209.7" x2="631.5" y2="209.7" stroke="#555" stroke-width="1.3"/>
<line x1="630.1" y1="206.82" x2="631.5" y2="206.82" stroke="#999" stroke-width="0.8"/>
<line x1="630.1" y1="203.94" x2="631.5" y2="203.94" stroke="#999" stroke-width="0.8"/>
<line x1="630.1" y1="201.06" x2="631.5" y2="201.06" stroke="#999" stroke-width="0.8"/>
<line x1="630.1" y1="198.18" x2="631.5" y2="198.18" stroke="#999" stroke-width="0.8"/>
<line x1="628.9" y1="195.3" x2="631.5" y2="195.3" stroke="#555" stroke-width="1.3"/>
<line x1="630.1" y1="192.42000000000002" x2="631.5" y2="192.42000000000002" stroke="#999" stroke-width="0.8"/>
<line x1="630.1" y1="189.54" x2="631.5" y2="189.54" stroke="#999" stroke-width="0.8"/>
<line x1="630.1" y1="186.66" x2="631.5" y2="186.66" stroke="#999" stroke-width="0.8"/>
<line x1="630.1" y1="183.78" x2="631.5" y2="183.78" stroke="#999" stroke-width="0.8"/>
<line x1="628.9" y1="180.9" x2="631.5" y2="180.9" stroke="#555" stroke-width="1.3"/>
<line x1="630.1" y1="178.01999999999998" x2="631.5" y2="178.01999999999998" stroke="#999" stroke-width="0.8"/>
<line x1="630.1" y1="175.14" x2="631.5" y2="175.14" stroke="#999" stroke-width="0.8"/>
<line x1="630.1" y1="172.26" x2="631.5" y2="172.26" stroke="#999" stroke-width="0.8"/>
<line x1="630.1" y1="169.38" x2="631.5" y2="169.38" stroke="#999" stroke-width="0.8"/>
<line x1="628.9" y1="166.5" x2="631.5" y2="166.5" stroke="#555" stroke-width="1.3"/>
<line x1="630.1" y1="163.62" x2="631.5" y2="163.62" stroke="#999" stroke-width="0.8"/>
<line x1="631.5" y1="162.0" x2="631.5" y2="238.5" stroke="#9a9a9a" stroke-width="1.0"/>
<line x1="631.0" y1="238.5" x2="708.8" y2="238.5" stroke="#3a3a4a" stroke-width="1.2"/>
<line x1="645.9" y1="238.5" x2="645.9" y2="240.5" stroke="#555" stroke-width="0.9"/>
<line x1="662.6" y1="238.5" x2="662.6" y2="240.5" stroke="#555" stroke-width="0.9"/>
<line x1="686.7" y1="238.5" x2="686.7" y2="240.5" stroke="#555" stroke-width="0.9"/>
<circle cx="654.6" cy="239.3" r="1.3" fill="#111"/>
<text x="543.5" y="44.8" font-size="18" text-anchor="start" font-weight="normal">Pdl1<tspan dy="-7.5" font-size="12.5">fl/fl</tspan></text>
<text x="672" y="26.4" font-size="18" text-anchor="middle" font-weight="normal">CD11c-cre;</text>
<text x="645.8" y="44.8" font-size="18" text-anchor="start" font-weight="normal">Pdl1<tspan dy="-7.5" font-size="12.5">fl/fl</tspan></text>
<text x="520.5" y="99.6" font-size="18" text-anchor="end" font-weight="normal">DC</text>
<text x="520.5" y="196.2" font-size="18" text-anchor="end" font-weight="normal">CD11c-</text>
<text x="520.5" y="215.9" font-size="18" text-anchor="end" font-weight="normal">MHC II+</text>
<text x="552.6" y="147.29999999999998" font-size="10.8" text-anchor="start" font-weight="normal">0</text>
<text x="579.3" y="147.6" font-size="10.8" text-anchor="start" font-weight="normal">10<tspan dy="-5.2" font-size="8.5">4</tspan></text>
<text x="600.8" y="147.6" font-size="10.8" text-anchor="start" font-weight="normal">10<tspan dy="-5.2" font-size="8.5">5</tspan></text>
<text x="552.6" y="254.29999999999998" font-size="10.8" text-anchor="start" font-weight="normal">0</text>
<text x="579.3" y="254.6" font-size="10.8" text-anchor="start" font-weight="normal">10<tspan dy="-5.2" font-size="8.5">4</tspan></text>
<text x="600.8" y="254.6" font-size="10.8" text-anchor="start" font-weight="normal">10<tspan dy="-5.2" font-size="8.5">5</tspan></text>
<text x="651.9" y="147.29999999999998" font-size="10.8" text-anchor="start" font-weight="normal">0</text>
<text x="678.5999999999999" y="147.6" font-size="10.8" text-anchor="start" font-weight="normal">10<tspan dy="-5.2" font-size="8.5">4</tspan></text>
<text x="700.0999999999999" y="147.6" font-size="10.8" text-anchor="start" font-weight="normal">10<tspan dy="-5.2" font-size="8.5">5</tspan></text>
<text x="651.9" y="254.29999999999998" font-size="10.8" text-anchor="start" font-weight="normal">0</text>
<text x="678.5999999999999" y="254.6" font-size="10.8" text-anchor="start" font-weight="normal">10<tspan dy="-5.2" font-size="8.5">4</tspan></text>
<text x="700.0999999999999" y="254.6" font-size="10.8" text-anchor="start" font-weight="normal">10<tspan dy="-5.2" font-size="8.5">5</tspan></text>
<line x1="724.6" y1="69" x2="735" y2="69" stroke="#8a8a8a" stroke-width="2.4"/>
<text x="744.2" y="73.9" font-size="18" text-anchor="start" font-weight="normal">FMO</text>
<line x1="724.6" y1="88.5" x2="735" y2="88.5" stroke="#8686e6" stroke-width="2.4"/>
<text x="744.4" y="93.7" font-size="18" text-anchor="start" font-weight="normal">α-PD-L1</text>
<text x="539.2" y="275.2" font-size="18" text-anchor="start" font-weight="normal">PD-L1-APC</text>
<line x1="643" y1="269.3" x2="696" y2="269.3" stroke="#111" stroke-width="1.7"/>
<polygon points="695,265.6 702,269.3 695,273" fill="#111"/>
<text x="828.6" y="18.8" font-size="26" text-anchor="start" font-weight="bold" class="b">d</text>
<text x="919.6" y="30.9" font-size="18" text-anchor="start" font-weight="normal">CD11c-cre;Pdl1<tspan dy="-7.5" font-size="12.5">fl/fl</tspan></text>
<line x1="911.9" y1="49.0" x2="911.9" y2="156.0" stroke="#3a3a3a" stroke-width="1.2"/>
<line x1="911.9" y1="156.0" x2="1072" y2="156.0" stroke="#1c1c1c" stroke-width="1.3"/>
<line x1="909.5" y1="156.0" x2="911.9" y2="156.0" stroke="#3a3a3a" stroke-width="1.1"/>
<text x="900.9" y="161.0" font-size="14.2" text-anchor="end" font-weight="normal">0</text>
<line x1="909.5" y1="134.6" x2="911.9" y2="134.6" stroke="#3a3a3a" stroke-width="1.1"/>
<text x="900.9" y="139.6" font-size="14.2" text-anchor="end" font-weight="normal">200</text>
<line x1="909.5" y1="113.2" x2="911.9" y2="113.2" stroke="#3a3a3a" stroke-width="1.1"/>
<text x="900.9" y="118.2" font-size="14.2" text-anchor="end" font-weight="normal">400</text>
<line x1="909.5" y1="91.8" x2="911.9" y2="91.8" stroke="#3a3a3a" stroke-width="1.1"/>
<text x="900.9" y="96.8" font-size="14.2" text-anchor="end" font-weight="normal">600</text>
<line x1="909.5" y1="70.4" x2="911.9" y2="70.4" stroke="#3a3a3a" stroke-width="1.1"/>
<text x="900.9" y="75.4" font-size="14.2" text-anchor="end" font-weight="normal">800</text>
<line x1="909.5" y1="49.0" x2="911.9" y2="49.0" stroke="#3a3a3a" stroke-width="1.1"/>
<text x="900.9" y="54.0" font-size="14.2" text-anchor="end" font-weight="normal">1000</text>
<line x1="911.9" y1="156.0" x2="911.9" y2="158.8" stroke="#1c1c1c" stroke-width="1.1"/>
<text x="912.1999999999999" y="178.9" font-size="14.6" text-anchor="middle" font-weight="normal">0</text>
<line x1="938.5649999999999" y1="156.0" x2="938.5649999999999" y2="158.8" stroke="#1c1c1c" stroke-width="1.1"/>
<text x="938.8649999999999" y="178.9" font-size="14.6" text-anchor="middle" font-weight="normal">5</text>
<line x1="965.23" y1="156.0" x2="965.23" y2="158.8" stroke="#1c1c1c" stroke-width="1.1"/>
<text x="965.53" y="178.9" font-size="14.6" text-anchor="middle" font-weight="normal">10</text>
<line x1="991.895" y1="156.0" x2="991.895" y2="158.8" stroke="#1c1c1c" stroke-width="1.1"/>
<text x="992.1949999999999" y="178.9" font-size="14.6" text-anchor="middle" font-weight="normal">15</text>
<line x1="1018.56" y1="156.0" x2="1018.56" y2="158.8" stroke="#1c1c1c" stroke-width="1.1"/>
<text x="1018.8599999999999" y="178.9" font-size="14.6" text-anchor="middle" font-weight="normal">20</text>
<line x1="1045.225" y1="156.0" x2="1045.225" y2="158.8" stroke="#1c1c1c" stroke-width="1.1"/>
<text x="1045.5249999999999" y="178.9" font-size="14.6" text-anchor="middle" font-weight="normal">25</text>
<line x1="1071.8899999999999" y1="156.0" x2="1071.8899999999999" y2="158.8" stroke="#1c1c1c" stroke-width="1.1"/>
<text x="1072.1899999999998" y="178.9" font-size="14.6" text-anchor="middle" font-weight="normal">30</text>
<text x="907.2" y="204.3" font-size="17.9" text-anchor="start" font-weight="normal">Days after inoculation</text>
<text transform="translate(847.6,101.4) rotate(-90)" font-size="18.1" text-anchor="middle">Tumor size (mm<tspan dy="-7" font-size="12">3</tspan><tspan dy="7">)</tspan></text>
<polyline points="911.90,156.00 943.90,149.90 965.23,146.26 981.23,143.48 991.89,140.27 1002.56,136.10 1018.56,129.25 1034.56,125.18 1066.56,91.27" fill="none" stroke="#1c1c1c" stroke-width="1.3"/>
<polyline points="911.90,156.00 943.90,152.58 965.23,151.19 981.23,150.33 991.89,150.12 1002.56,147.76 1018.56,145.84 1034.56,140.49 1066.56,121.55" fill="none" stroke="#1c1c1c" stroke-width="1.3"/>
<circle cx="911.90" cy="156.00" r="2.5" fill="#1c1c1c" stroke="#1c1c1c" stroke-width="0"/>
<circle cx="943.90" cy="149.90" r="2.5" fill="#1c1c1c" stroke="#1c1c1c" stroke-width="0"/>
<line x1="965.23" y1="146.263" x2="965.23" y2="145.193" stroke="#1c1c1c" stroke-width="1.6"/>
<line x1="962.63" y1="145.193" x2="967.83" y2="145.193" stroke="#1c1c1c" stroke-width="1.6"/>
<circle cx="965.23" cy="146.26" r="2.5" fill="#1c1c1c" stroke="#1c1c1c" stroke-width="0"/>
<line x1="981.229" y1="143.481" x2="981.229" y2="141.555" stroke="#1c1c1c" stroke-width="1.6"/>
<line x1="978.629" y1="141.555" x2="983.8290000000001" y2="141.555" stroke="#1c1c1c" stroke-width="1.6"/>
<circle cx="981.23" cy="143.48" r="2.5" fill="#1c1c1c" stroke="#1c1c1c" stroke-width="0"/>
<line x1="991.895" y1="140.27100000000002" x2="991.895" y2="136.526" stroke="#1c1c1c" stroke-width="1.6"/>
<line x1="989.295" y1="136.526" x2="994.495" y2="136.526" stroke="#1c1c1c" stroke-width="1.6"/>
<circle cx="991.89" cy="140.27" r="2.5" fill="#1c1c1c" stroke="#1c1c1c" stroke-width="0"/>
<line x1="1002.5609999999999" y1="136.098" x2="1002.5609999999999" y2="130.748" stroke="#1c1c1c" stroke-width="1.6"/>
<line x1="999.9609999999999" y1="130.748" x2="1005.161" y2="130.748" stroke="#1c1c1c" stroke-width="1.6"/>
<circle cx="1002.56" cy="136.10" r="2.5" fill="#1c1c1c" stroke="#1c1c1c" stroke-width="0"/>
<line x1="1018.56" y1="129.25" x2="1018.56" y2="121.54599999999999" stroke="#1c1c1c" stroke-width="1.6"/>
<line x1="1015.9599999999999" y1="121.54599999999999" x2="1021.16" y2="121.54599999999999" stroke="#1c1c1c" stroke-width="1.6"/>
<circle cx="1018.56" cy="129.25" r="2.5" fill="#1c1c1c" stroke="#1c1c1c" stroke-width="0"/>
<line x1="1034.559" y1="125.184" x2="1034.559" y2="111.488" stroke="#1c1c1c" stroke-width="1.6"/>
<line x1="1031.959" y1="111.488" x2="1037.1589999999999" y2="111.488" stroke="#1c1c1c" stroke-width="1.6"/>
<circle cx="1034.56" cy="125.18" r="2.5" fill="#1c1c1c" stroke="#1c1c1c" stroke-width="0"/>
<line x1="1066.557" y1="91.265" x2="1066.557" y2="69.009" stroke="#1c1c1c" stroke-width="1.6"/>
<line x1="1063.957" y1="69.009" x2="1069.157" y2="69.009" stroke="#1c1c1c" stroke-width="1.6"/>
<circle cx="1066.56" cy="91.27" r="2.5" fill="#1c1c1c" stroke="#1c1c1c" stroke-width="0"/>
<circle cx="943.90" cy="152.58" r="2.5" fill="#fff" stroke="#1c1c1c" stroke-width="1.3"/>
<circle cx="965.23" cy="151.19" r="2.5" fill="#fff" stroke="#1c1c1c" stroke-width="1.3"/>
<circle cx="981.23" cy="150.33" r="2.5" fill="#fff" stroke="#1c1c1c" stroke-width="1.3"/>
<circle cx="991.89" cy="150.12" r="2.5" fill="#fff" stroke="#1c1c1c" stroke-width="1.3"/>
<circle cx="1002.56" cy="147.76" r="2.5" fill="#fff" stroke="#1c1c1c" stroke-width="1.3"/>
<circle cx="1018.56" cy="145.84" r="2.5" fill="#fff" stroke="#1c1c1c" stroke-width="1.3"/>
<line x1="1034.559" y1="137.88500000000002" x2="1034.559" y2="137.275" stroke="#1c1c1c" stroke-width="1.6"/>
<line x1="1031.959" y1="137.275" x2="1037.1589999999999" y2="137.275" stroke="#1c1c1c" stroke-width="1.6"/>
<circle cx="1034.56" cy="140.49" r="2.5" fill="#fff" stroke="#1c1c1c" stroke-width="1.3"/>
<line x1="1066.557" y1="118.946" x2="1066.557" y2="116.303" stroke="#1c1c1c" stroke-width="1.6"/>
<line x1="1063.957" y1="116.303" x2="1069.157" y2="116.303" stroke="#1c1c1c" stroke-width="1.6"/>
<circle cx="1066.56" cy="121.55" r="2.5" fill="#fff" stroke="#1c1c1c" stroke-width="1.3"/>
<circle cx="911.90" cy="156.00" r="3.0" fill="#1c1c1c" stroke="#1c1c1c" stroke-width="0"/>
<line x1="919.7" y1="55.6" x2="930.9" y2="55.6" stroke="#1c1c1c" stroke-width="1.3"/>
<circle cx="925.30" cy="55.60" r="2.5" fill="#1c1c1c" stroke="#1c1c1c" stroke-width="0"/>
<text x="938.6" y="60.9" font-size="18" text-anchor="start" font-weight="normal">Cre–</text>
<line x1="919.7" y1="75.7" x2="930.9" y2="75.7" stroke="#1c1c1c" stroke-width="1.3"/>
<circle cx="925.30" cy="75.70" r="2.5" fill="#fff" stroke="#1c1c1c" stroke-width="1.3"/>
<text x="938.6" y="81.0" font-size="18" text-anchor="start" font-weight="normal">Cre+</text>
<text x="-1.3" y="400.5" font-size="26" text-anchor="start" font-weight="bold" class="b">e</text>
<line x1="85.6" y1="405.6" x2="85.6" y2="512.3" stroke="#4a4a4a" stroke-width="1.4"/>
<line x1="85.0" y1="512.3" x2="190" y2="512.3" stroke="#1c1c1c" stroke-width="1.4"/>
<line x1="83.1" y1="512.3" x2="85.6" y2="512.3" stroke="#555" stroke-width="1.1"/>
<text x="77.5" y="517.3" font-size="14.6" text-anchor="end" font-weight="normal">0</text>
<line x1="83.1" y1="490.96" x2="85.6" y2="490.96" stroke="#555" stroke-width="1.1"/>
<text x="77.5" y="495.96" font-size="14.6" text-anchor="end" font-weight="normal">1000</text>
<line x1="83.1" y1="469.62" x2="85.6" y2="469.62" stroke="#555" stroke-width="1.1"/>
<text x="77.5" y="474.62" font-size="14.6" text-anchor="end" font-weight="normal">2000</text>
<line x1="83.1" y1="448.28" x2="85.6" y2="448.28" stroke="#555" stroke-width="1.1"/>
<text x="77.5" y="453.28" font-size="14.6" text-anchor="end" font-weight="normal">3000</text>
<line x1="83.1" y1="426.94" x2="85.6" y2="426.94" stroke="#555" stroke-width="1.1"/>
<text x="77.5" y="431.94" font-size="14.6" text-anchor="end" font-weight="normal">4000</text>
<line x1="83.1" y1="405.6" x2="85.6" y2="405.6" stroke="#555" stroke-width="1.1"/>
<text x="77.5" y="410.6" font-size="14.6" text-anchor="end" font-weight="normal">5000</text>
<text transform="translate(27.4,459.6) rotate(-90)" font-size="18" text-anchor="middle">MFI(PD-L1)</text>
<rect x="91.70" y="507.30" width="21.40" height="5.00" fill="#646464" stroke="#1c1c1c" stroke-width="1.2"/>
<rect x="113.10" y="478.00" width="20.90" height="34.30" fill="#fff" stroke="#1c1c1c" stroke-width="1.2"/>
<rect x="145.20" y="506.90" width="21.20" height="5.40" fill="#646464" stroke="#1c1c1c" stroke-width="1.2"/>
<rect x="166.40" y="472.00" width="21.30" height="40.30" fill="#fff" stroke="#1c1c1c" stroke-width="1.2"/>
<line x1="123.6" y1="481.5" x2="123.6" y2="473.0" stroke="#1c1c1c" stroke-width="1.2"/>
<line x1="118.6" y1="473.0" x2="128.6" y2="473.0" stroke="#1c1c1c" stroke-width="1.2"/>
<line x1="118.6" y1="481.5" x2="128.6" y2="481.5" stroke="#1c1c1c" stroke-width="1.2"/>
<line x1="177.1" y1="479.4" x2="177.1" y2="463.6" stroke="#1c1c1c" stroke-width="1.2"/>
<line x1="171.7" y1="463.6" x2="182.5" y2="463.6" stroke="#1c1c1c" stroke-width="1.2"/>
<line x1="171.7" y1="479.4" x2="182.5" y2="479.4" stroke="#1c1c1c" stroke-width="1.2"/>
<circle cx="95.00" cy="507.60" r="1.8" fill="none" stroke="#1c1c1c" stroke-width="1.1"/>
<circle cx="98.50" cy="507.60" r="1.8" fill="none" stroke="#1c1c1c" stroke-width="1.1"/>
<circle cx="102.00" cy="506.30" r="1.8" fill="none" stroke="#1c1c1c" stroke-width="1.1"/>
<circle cx="105.50" cy="507.60" r="1.8" fill="none" stroke="#1c1c1c" stroke-width="1.1"/>
<circle cx="109.00" cy="507.60" r="1.8" fill="none" stroke="#1c1c1c" stroke-width="1.1"/>
<circle cx="149.00" cy="507.80" r="1.8" fill="none" stroke="#1c1c1c" stroke-width="1.1"/>
<circle cx="152.50" cy="507.80" r="1.8" fill="none" stroke="#1c1c1c" stroke-width="1.1"/>
<circle cx="156.00" cy="507.80" r="1.8" fill="none" stroke="#1c1c1c" stroke-width="1.1"/>
<circle cx="159.50" cy="507.80" r="1.8" fill="none" stroke="#1c1c1c" stroke-width="1.1"/>
<circle cx="163.00" cy="507.80" r="1.8" fill="none" stroke="#1c1c1c" stroke-width="1.1"/>
<line x1="150.5" y1="505.4" x2="161" y2="505.4" stroke="#1c1c1c" stroke-width="1.1"/>
<circle cx="155.80" cy="496.70" r="1.9" fill="#333" stroke="#1c1c1c" stroke-width="1.1"/>
<circle cx="123.70" cy="455.80" r="1.9" fill="none" stroke="#1c1c1c" stroke-width="1.1"/>
<circle cx="121.40" cy="481.70" r="1.9" fill="none" stroke="#1c1c1c" stroke-width="1.1"/>
<circle cx="126.00" cy="481.70" r="1.9" fill="none" stroke="#1c1c1c" stroke-width="1.1"/>
<circle cx="121.40" cy="485.00" r="1.9" fill="none" stroke="#1c1c1c" stroke-width="1.1"/>
<circle cx="125.70" cy="487.80" r="1.9" fill="none" stroke="#1c1c1c" stroke-width="1.1"/>
<circle cx="123.70" cy="473.20" r="1.9" fill="#333" stroke="#1c1c1c" stroke-width="1.1"/>
<circle cx="177.10" cy="429.30" r="1.9" fill="none" stroke="#1c1c1c" stroke-width="1.1"/>
<circle cx="177.10" cy="461.80" r="1.9" fill="none" stroke="#1c1c1c" stroke-width="1.1"/>
<circle cx="174.90" cy="479.00" r="1.9" fill="none" stroke="#1c1c1c" stroke-width="1.1"/>
<circle cx="179.00" cy="482.20" r="1.9" fill="none" stroke="#1c1c1c" stroke-width="1.1"/>
<circle cx="174.90" cy="485.90" r="1.9" fill="none" stroke="#1c1c1c" stroke-width="1.1"/>
<circle cx="179.00" cy="490.00" r="1.9" fill="none" stroke="#1c1c1c" stroke-width="1.1"/>
<circle cx="177.10" cy="474.20" r="1.9" fill="#555" stroke="#1c1c1c" stroke-width="1.1"/>
<line x1="102.1" y1="512.3" x2="102.1" y2="515.0999999999999" stroke="#1c1c1c" stroke-width="1.1"/>
<line x1="123.5" y1="512.3" x2="123.5" y2="515.0999999999999" stroke="#1c1c1c" stroke-width="1.1"/>
<line x1="155.8" y1="512.3" x2="155.8" y2="515.0999999999999" stroke="#1c1c1c" stroke-width="1.1"/>
<line x1="177.1" y1="512.3" x2="177.1" y2="515.0999999999999" stroke="#1c1c1c" stroke-width="1.1"/>
<path d="M122.7,415.5 V409.8 H178.3 V415.5" fill="none" stroke="#1c1c1c" stroke-width="1.5"/>
<text x="151.2" y="404.3" font-size="15.5" text-anchor="middle" font-weight="normal">n.s.</text>
<text x="111.9" y="537.6" font-size="18" text-anchor="middle" font-weight="normal">Cre–</text>
<text x="166.8" y="537.6" font-size="18" text-anchor="middle" font-weight="normal">Cre+</text>
<rect x="204.8" y="409.3" width="10.4" height="7.6" fill="#646464" stroke="#2a2a2a" stroke-width="1.2"/>
<text x="224.0" y="419.8" font-size="18" text-anchor="start" font-weight="normal">FMO</text>
<rect x="204.8" y="431.3" width="10.4" height="7.8" fill="#fff" stroke="#2a2a2a" stroke-width="1.2"/>
<text x="224.6" y="441.4" font-size="18" text-anchor="start" font-weight="normal">α-PD-L1</text>
<text x="332.6" y="400.4" font-size="26" text-anchor="start" font-weight="bold" class="b">f</text>
<line x1="391.6" y1="406.7" x2="391.6" y2="512.9" stroke="#4a4a4a" stroke-width="1.4"/>
<line x1="391.0" y1="512.9" x2="463.8" y2="512.9" stroke="#1c1c1c" stroke-width="1.4"/>
<line x1="389.0" y1="512.9" x2="391.6" y2="512.9" stroke="#555" stroke-width="1.1"/>
<text x="382.4" y="516.8" font-size="15.3" text-anchor="end" font-weight="normal">0</text>
<line x1="389.0" y1="477.5" x2="391.6" y2="477.5" stroke="#555" stroke-width="1.1"/>
<text x="382.4" y="481.4" font-size="15.3" text-anchor="end" font-weight="normal">0.2</text>
<line x1="389.0" y1="442.09999999999997" x2="391.6" y2="442.09999999999997" stroke="#555" stroke-width="1.1"/>
<text x="382.4" y="445.99999999999994" font-size="15.3" text-anchor="end" font-weight="normal">0.4</text>
<line x1="389.0" y1="406.7" x2="391.6" y2="406.7" stroke="#555" stroke-width="1.1"/>
<text x="382.4" y="410.59999999999997" font-size="15.3" text-anchor="end" font-weight="normal">0.6</text>
<text transform="translate(346.6,460.8) rotate(-90)" font-size="18.4" text-anchor="middle">Tetramer<tspan dy="-6.5" font-size="12">+</tspan><tspan dy="5" font-size="15">%</tspan></text>
<rect x="398.20" y="495.00" width="23.20" height="17.90" fill="#646464" stroke="#1c1c1c" stroke-width="1.2"/>
<rect x="433.80" y="465.10" width="23.60" height="47.80" fill="#fff" stroke="#1c1c1c" stroke-width="1.2"/>
<line x1="409.8" y1="504.6" x2="409.8" y2="484.2" stroke="#1c1c1c" stroke-width="1.2"/>
<line x1="404.5" y1="484.2" x2="415.1" y2="484.2" stroke="#1c1c1c" stroke-width="1.2"/>
<line x1="404.5" y1="504.6" x2="415.1" y2="504.6" stroke="#1c1c1c" stroke-width="1.2"/>
<line x1="445.6" y1="471.8" x2="445.6" y2="458.4" stroke="#1c1c1c" stroke-width="1.2"/>
<line x1="440.1" y1="458.4" x2="451.1" y2="458.4" stroke="#1c1c1c" stroke-width="1.2"/>
<line x1="440.1" y1="471.8" x2="451.1" y2="471.8" stroke="#1c1c1c" stroke-width="1.2"/>
<circle cx="409.60" cy="458.00" r="1.9" fill="#444" stroke="#1c1c1c" stroke-width="1.1"/>
<circle cx="409.60" cy="491.40" r="1.9" fill="#333" stroke="#1c1c1c" stroke-width="1.1"/>
<circle cx="409.60" cy="497.60" r="1.9" fill="none" stroke="#1c1c1c" stroke-width="1.1"/>
<circle cx="407.60" cy="512.90" r="1.9" fill="none" stroke="#1c1c1c" stroke-width="1.2"/>
<circle cx="411.60" cy="512.90" r="1.9" fill="none" stroke="#1c1c1c" stroke-width="1.2"/>
<circle cx="445.50" cy="443.50" r="1.9" fill="none" stroke="#1c1c1c" stroke-width="1.1"/>
<circle cx="445.50" cy="455.70" r="1.9" fill="none" stroke="#1c1c1c" stroke-width="1.1"/>
<circle cx="445.50" cy="468.00" r="1.9" fill="none" stroke="#1c1c1c" stroke-width="1.1"/>
<circle cx="443.30" cy="476.90" r="1.9" fill="none" stroke="#1c1c1c" stroke-width="1.1"/>
<circle cx="447.70" cy="479.10" r="1.9" fill="none" stroke="#1c1c1c" stroke-width="1.1"/>
<line x1="409.6" y1="512.9" x2="409.6" y2="515.5" stroke="#1c1c1c" stroke-width="1.1"/>
<line x1="445.5" y1="512.9" x2="445.5" y2="515.5" stroke="#1c1c1c" stroke-width="1.1"/>
<path d="M409.8,416.0 V410.0 H446.2 V416.0" fill="none" stroke="#1c1c1c" stroke-width="1.5"/>
<text x="427.8" y="409.0" font-size="15.5" text-anchor="middle" font-weight="normal">*</text>
<rect x="481.0" y="409.8" width="10.6" height="8.4" fill="#646464" stroke="#2a2a2a" stroke-width="1.2"/>
<text x="499.2" y="420.5" font-size="18" text-anchor="start" font-weight="normal">Cre–</text>
<rect x="481.0" y="434.2" width="10.6" height="8.4" fill="#fff" stroke="#2a2a2a" stroke-width="1.2"/>
<text x="499.2" y="444.6" font-size="18" text-anchor="start" font-weight="normal">Cre+</text>
<text x="575.6" y="400.3" font-size="26" text-anchor="start" font-weight="bold" class="b">g</text>
<line x1="661.6" y1="406.0" x2="661.6" y2="513.1" stroke="#4a4a4a" stroke-width="1.4"/>
<line x1="661.0" y1="513.1" x2="768.2" y2="513.1" stroke="#1c1c1c" stroke-width="1.4"/>
<line x1="659.0" y1="513.1" x2="661.6" y2="513.1" stroke="#555" stroke-width="1.1"/>
<text x="650.2" y="517.3000000000001" font-size="14.8" text-anchor="end" font-weight="normal">0</text>
<line x1="659.0" y1="491.68" x2="661.6" y2="491.68" stroke="#555" stroke-width="1.1"/>
<text x="650.2" y="495.88" font-size="14.8" text-anchor="end" font-weight="normal">20</text>
<line x1="659.0" y1="470.26" x2="661.6" y2="470.26" stroke="#555" stroke-width="1.1"/>
<text x="650.2" y="474.46" font-size="14.8" text-anchor="end" font-weight="normal">40</text>
<line x1="659.0" y1="448.84000000000003" x2="661.6" y2="448.84000000000003" stroke="#555" stroke-width="1.1"/>
<text x="650.2" y="453.04" font-size="14.8" text-anchor="end" font-weight="normal">60</text>
<line x1="659.0" y1="427.42" x2="661.6" y2="427.42" stroke="#555" stroke-width="1.1"/>
<text x="650.2" y="431.62" font-size="14.8" text-anchor="end" font-weight="normal">80</text>
<line x1="659.0" y1="406.0" x2="661.6" y2="406.0" stroke="#555" stroke-width="1.1"/>
<text x="650.2" y="410.2" font-size="14.8" text-anchor="end" font-weight="normal">100</text>
<text transform="translate(592.2,459.8) rotate(-90)" font-size="18" text-anchor="middle">IFN-γ<tspan dy="-6.5" font-size="12">+</tspan><tspan dy="6.5"> cells/</tspan></text>
<text transform="translate(610.8,459.0) rotate(-90)" font-size="18" text-anchor="middle">1 × 10<tspan dy="-6.5" font-size="12">6</tspan><tspan dy="6.5"> cells</tspan></text>
<rect x="720.20" y="496.20" width="17.30" height="16.90" fill="#646464" stroke="#1c1c1c" stroke-width="1.2"/>
<rect x="746.80" y="448.80" width="17.40" height="64.30" fill="#fff" stroke="#1c1c1c" stroke-width="1.2"/>
<line x1="728.6" y1="504.5" x2="728.6" y2="487.8" stroke="#1c1c1c" stroke-width="1.2"/>
<line x1="724.7" y1="487.8" x2="732.5" y2="487.8" stroke="#1c1c1c" stroke-width="1.2"/>
<line x1="724.7" y1="504.5" x2="732.5" y2="504.5" stroke="#1c1c1c" stroke-width="1.2"/>
<line x1="755.5" y1="462.4" x2="755.5" y2="434.9" stroke="#1c1c1c" stroke-width="1.2"/>
<line x1="751.6" y1="434.9" x2="759.4" y2="434.9" stroke="#1c1c1c" stroke-width="1.2"/>
<line x1="751.6" y1="462.4" x2="759.4" y2="462.4" stroke="#1c1c1c" stroke-width="1.2"/>
<circle cx="667.30" cy="513.10" r="1.7" fill="#222" stroke="#1c1c1c" stroke-width="1.1"/>
<circle cx="670.90" cy="513.10" r="1.7" fill="#222" stroke="#1c1c1c" stroke-width="1.1"/>
<circle cx="674.50" cy="513.10" r="1.7" fill="#222" stroke="#1c1c1c" stroke-width="1.1"/>
<circle cx="678.10" cy="513.10" r="1.7" fill="#222" stroke="#1c1c1c" stroke-width="1.1"/>
<circle cx="681.70" cy="513.10" r="1.7" fill="#222" stroke="#1c1c1c" stroke-width="1.1"/>
<circle cx="694.00" cy="513.10" r="1.7" fill="#222" stroke="#1c1c1c" stroke-width="1.1"/>
<circle cx="697.60" cy="513.10" r="1.7" fill="#222" stroke="#1c1c1c" stroke-width="1.1"/>
<circle cx="701.20" cy="513.10" r="1.7" fill="#222" stroke="#1c1c1c" stroke-width="1.1"/>
<circle cx="704.80" cy="513.10" r="1.7" fill="#222" stroke="#1c1c1c" stroke-width="1.1"/>
<circle cx="708.40" cy="513.10" r="1.7" fill="#222" stroke="#1c1c1c" stroke-width="1.1"/>
<circle cx="728.60" cy="470.20" r="1.9" fill="#555" stroke="#1c1c1c" stroke-width="1.1"/>
<circle cx="724.50" cy="491.50" r="1.9" fill="#555" stroke="#1c1c1c" stroke-width="1.1"/>
<circle cx="732.80" cy="491.50" r="1.9" fill="#555" stroke="#1c1c1c" stroke-width="1.1"/>
<circle cx="724.50" cy="513.00" r="2.0" fill="#222" stroke="#1c1c1c" stroke-width="1.1"/>
<circle cx="732.80" cy="513.00" r="2.0" fill="#222" stroke="#1c1c1c" stroke-width="1.1"/>
<circle cx="755.50" cy="427.40" r="1.9" fill="none" stroke="#1c1c1c" stroke-width="1.1"/>
<circle cx="749.40" cy="438.00" r="1.9" fill="none" stroke="#1c1c1c" stroke-width="1.1"/>
<circle cx="761.50" cy="438.00" r="1.9" fill="none" stroke="#1c1c1c" stroke-width="1.1"/>
<circle cx="755.50" cy="502.10" r="1.9" fill="none" stroke="#1c1c1c" stroke-width="1.1"/>
<circle cx="755.50" cy="438.00" r="1.9" fill="#444" stroke="#1c1c1c" stroke-width="1.1"/>
<line x1="728.6" y1="513.1" x2="728.6" y2="515.5" stroke="#1c1c1c" stroke-width="1"/>
<line x1="755.5" y1="513.1" x2="755.5" y2="515.5" stroke="#1c1c1c" stroke-width="1"/>
<text x="677.0" y="507.2" font-size="14.6" text-anchor="middle" font-weight="normal">n.d.</text>
<text x="702.7" y="507.2" font-size="14.6" text-anchor="middle" font-weight="normal">n.d.</text>
<path d="M728.8,415.4 V409.7 H755.0 V415.4" fill="none" stroke="#1c1c1c" stroke-width="1.5"/>
<text x="742.0" y="408.6" font-size="15.5" text-anchor="middle" font-weight="normal">*</text>
<text x="652.0" y="536.3" font-size="18" text-anchor="end" font-weight="normal">SIY</text>
<text x="675.9" y="536.6" font-size="18" text-anchor="middle" font-weight="normal">–</text>
<text x="702.3" y="536.6" font-size="18" text-anchor="middle" font-weight="normal">–</text>
<text x="728.7" y="536.0" font-size="18" text-anchor="middle" font-weight="normal">+</text>
<text x="755.3" y="536.0" font-size="18" text-anchor="middle" font-weight="normal">+</text>
<rect x="780.4" y="409.5" width="10.6" height="8.2" fill="#646464" stroke="#2a2a2a" stroke-width="1.2"/>
<text x="799.6" y="418.7" font-size="18" text-anchor="start" font-weight="normal">Cre–</text>
<rect x="780.4" y="431.0" width="10.6" height="8.6" fill="#fff" stroke="#2a2a2a" stroke-width="1.2"/>
<text x="799.6" y="440.6" font-size="18" text-anchor="start" font-weight="normal">Cre+</text>
</svg></body></html>
